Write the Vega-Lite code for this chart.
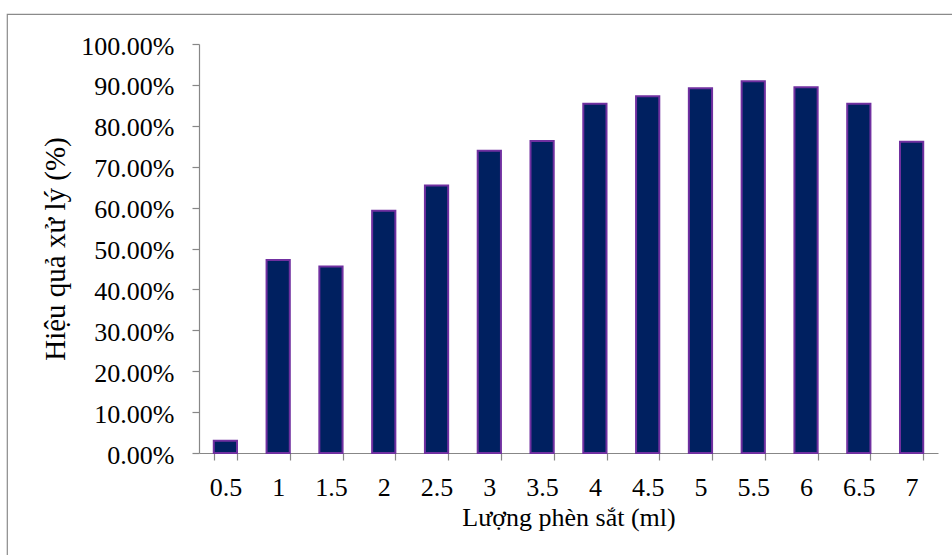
{
  "$schema": "https://vega.github.io/schema/vega-lite/v6.json",
  "autosize": "none",
  "padding": {"left": 7, "top": 14, "right": -6, "bottom": -6},
  "width": 951,
  "height": 547,
  "background": "white",
  "config": {
    "view": {"stroke": "#8a8a8a", "strokeWidth": 1.2},
    "font": "Liberation Serif",
    "axis": {
      "domainColor": "#878787",
      "tickColor": "#878787",
      "domainWidth": 1.2,
      "tickWidth": 1.2,
      "tickSize": 7,
      "grid": false,
      "labelFont": "Liberation Serif",
      "titleFont": "Liberation Serif",
      "labelColor": "#000000",
      "titleColor": "#000000",
      "titleFontWeight": "normal"
    }
  },
  "data": {
    "values": [
      {"luong": "0.5", "hieuqua": 0.030},
      {"luong": "1", "hieuqua": 0.472},
      {"luong": "1.5", "hieuqua": 0.456},
      {"luong": "2", "hieuqua": 0.592},
      {"luong": "2.5", "hieuqua": 0.654},
      {"luong": "3", "hieuqua": 0.739},
      {"luong": "3.5", "hieuqua": 0.763},
      {"luong": "4", "hieuqua": 0.854},
      {"luong": "4.5", "hieuqua": 0.872},
      {"luong": "5", "hieuqua": 0.892},
      {"luong": "5.5", "hieuqua": 0.909},
      {"luong": "6", "hieuqua": 0.894},
      {"luong": "6.5", "hieuqua": 0.854},
      {"luong": "7", "hieuqua": 0.761}
    ]
  },
  "mark": {"type": "bar", "fill": "#002060", "stroke": "#7030A0", "strokeWidth": 2},
  "encoding": {
    "x": {
      "field": "luong",
      "type": "ordinal",
      "sort": null,
      "scale": {"range": [192, 931], "paddingInner": 0.56, "paddingOuter": 0.28},
      "axis": {
        "title": "Lượng phèn sắt (ml)",
        "orient": "bottom",
        "offset": -108,
        "labelAngle": 0,
        "labelFont": "Liberation Serif",
        "labelFontSize": 26,
        "labelBaseline": "alphabetic",
        "labelPadding": 35,
        "tickBand": "extent",
        "titleFont": "Liberation Serif",
        "titleFontSize": 26,
        "titleBaseline": "alphabetic",
        "titleY": 72
      }
    },
    "y": {
      "field": "hieuqua",
      "type": "quantitative",
      "scale": {"domain": [0, 1], "range": [439, 30], "nice": false, "zero": true},
      "axis": {
        "title": "Hiệu quả xử lý (%)",
        "orient": "left",
        "offset": -192,
        "values": [0, 0.1, 0.2, 0.3, 0.4, 0.5, 0.6, 0.7, 0.8, 0.9, 1],
        "format": ".2%",
        "labelFont": "Liberation Serif",
        "labelFontSize": 26,
        "labelPadding": 18,
        "labelOffset": 2,
        "titleFont": "Liberation Serif",
        "titleFontSize": 29,
        "titleAngle": 270,
        "titleBaseline": "alphabetic",
        "titleX": -135
      }
    }
  }
}
